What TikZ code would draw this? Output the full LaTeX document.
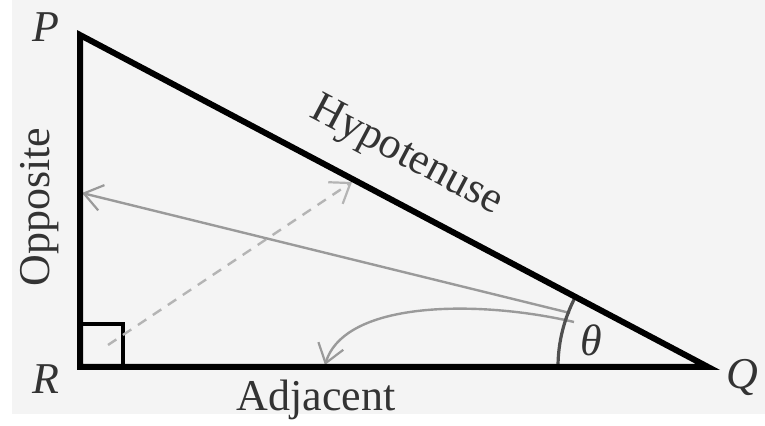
\documentclass[tikz,border=0pt]{standalone}
\usepackage{fontspec}
\setmainfont{Liberation Serif}
\usetikzlibrary{arrows.meta}
\definecolor{bg}{HTML}{F4F4F4}
\definecolor{arrowgray}{HTML}{9A9A9A}
\definecolor{dashgray}{HTML}{B4B4B4}
\definecolor{arcgray}{HTML}{505050}
\begin{document}
\begin{tikzpicture}[x=0.5pt,y=0.5pt,
  side/.style={line width=3pt, line join=miter},
  guide/.style={arrowgray, line width=1.2pt, -{Straight Barb[length=9pt,width=13pt,line width=1.1pt]}},
  dguide/.style={dashgray, line width=1.2pt, dash pattern=on 5pt off 4pt, -{Straight Barb[length=9pt,width=13pt,line width=1.1pt]}},
  lbl/.style={font=\fontsize{22}{24}\selectfont, text=black!80, inner sep=0pt},
  vlbl/.style={font=\fontsize{22}{24}\selectfont\itshape, text=black!80, inner sep=0pt}]
\fill[white] (0,0) rectangle (765,426);
\fill[bg] (12,12) rectangle (765,426);
\useasboundingbox (0,0) rectangle (765,426);
% vertices
\coordinate (R) at (80,59);
\coordinate (P) at (80,391);
\coordinate (Q) at (708,59);
% right-angle mark
\coordinate (sqa) at (123,59);
\coordinate (sqb) at (123,102);
\coordinate (sqc) at (80,102);
\draw[line width=1.6pt] (sqc) -- (sqb) -- (sqa);
% guides
\coordinate (dstart) at (108,81);
\coordinate (dend) at (352,244);
\draw[dguide] (dstart) -- (dend);
\coordinate (sstart) at (570,113);
\coordinate (send) at (82,233);
\draw[guide] (sstart) -- (send);
\coordinate (cstart) at (574,104);
\coordinate (cend) at (325,61);
\draw[guide] (cstart) .. controls (480,126) and (345,126) .. (cend);
% angle arc
\draw[arcgray, line width=1.6pt] (558,59) arc[start angle=180, end angle=152.14, radius=150];
\node[vlbl] (th) at (591,86) {θ};
% triangle
\draw[side] (P) -- (R) -- (Q) -- cycle;
% labels
\node[vlbl] (Pl) at (46,399) {P};
\node[vlbl] (Rl) at (46,47) {R};
\node[vlbl] (Ql) at (742,48) {Q};
\node[lbl, rotate=90] (opp) at (40,219) {Opposite};
\node[lbl] (adj) at (316,26) {Adjacent};
\node[lbl, rotate=-27.86] (hyp) at (406,269) {Hypotenuse};
\end{tikzpicture}
\end{document}
